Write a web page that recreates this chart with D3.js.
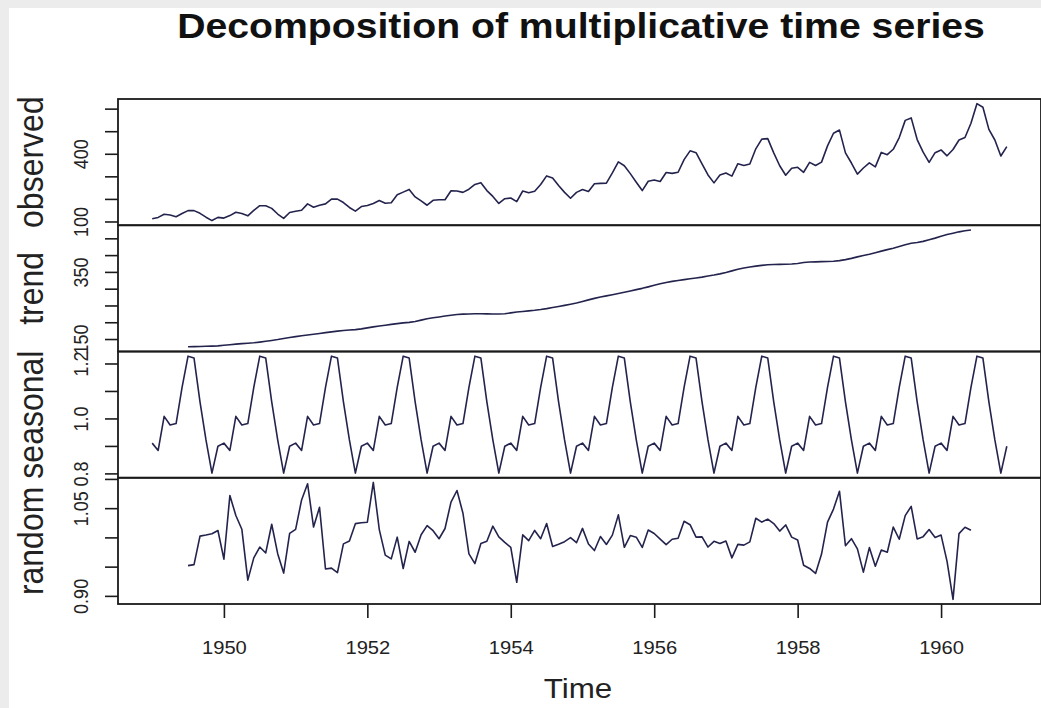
<!DOCTYPE html>
<html><head><meta charset="utf-8">
<script src="https://cdn.jsdelivr.net/npm/d3@7"></script>
<style>body{margin:0;background:#fff}svg{display:block}</style>
</head><body>
<script>
// ---------------- data ----------------
const startYear = 1949;
const observed = [
112,118,132,129,121,135,148,148,136,119,104,118,
115,126,141,135,125,149,170,170,158,133,114,140,
145,150,178,163,172,178,199,199,184,162,146,166,
171,180,193,181,183,218,230,242,209,191,172,194,
196,196,236,235,229,243,264,272,237,211,180,201,
204,188,235,227,234,264,302,293,259,229,203,229,
242,233,267,269,270,315,364,347,312,274,237,278,
284,277,317,313,318,374,413,405,355,306,271,306,
315,301,356,348,355,422,465,467,404,347,305,336,
340,318,362,348,363,435,491,505,404,359,310,337,
360,342,406,396,420,472,548,559,463,407,362,405,
417,391,419,461,472,535,622,606,508,461,390,432];
const trendStartMonth = 6; // July 1949
const trend = [
126.79,127.25,127.96,128.58,129.00,129.75,
131.25,133.08,134.92,136.42,137.42,138.75,140.92,143.17,145.71,148.42,151.54,154.71,
157.13,159.54,161.83,164.13,166.67,169.08,171.25,173.58,175.46,176.83,178.04,180.17,
183.13,186.21,189.04,191.29,193.58,195.83,198.04,199.75,202.21,206.25,210.42,213.38,
215.83,218.50,220.92,222.92,224.08,224.71,225.33,225.33,224.96,224.58,224.46,225.54,
228.00,230.46,232.25,233.92,235.63,237.75,240.50,243.96,247.17,250.25,253.50,257.13,
261.83,266.67,271.13,275.21,278.50,281.96,285.75,289.33,293.25,297.17,301.00,305.46,
309.96,314.42,318.63,321.75,324.50,327.08,329.54,331.83,334.46,337.54,340.54,344.08,
348.25,353.00,357.63,361.38,364.50,367.17,369.46,371.21,372.17,372.42,372.75,373.63,
375.25,377.92,379.50,380.00,380.71,380.96,381.83,383.67,386.50,390.33,394.71,398.63,
402.54,407.17,411.88,416.33,420.50,425.50,430.71,435.13,437.71,440.96,445.83,450.63,
456.33,461.38,465.21,469.33,472.75,475.04];
const seasonalFigure = [0.9102,0.8836,1.0074,0.9759,0.9814,1.1128,1.2266,1.2199,1.0605,0.9218,0.8012,0.8988];
const random = [
0.9517,0.9534,1.0022,1.0040,1.0063,1.0118,
0.9627,1.0715,1.0374,1.0140,0.9269,0.9650,0.9835,0.9734,1.0225,0.9721,0.9390,1.0068,
1.0138,1.0641,1.0918,1.0177,1.0515,0.9460,0.9474,0.9398,0.9889,0.9939,1.0235,1.0251,
1.0259,1.0940,1.0134,0.9696,0.9633,1.0004,0.9468,0.9931,0.9746,1.0046,1.0202,1.0115,
0.9977,1.0152,1.0604,1.0802,1.0413,0.9718,0.9552,0.9895,0.9934,1.0192,1.0009,0.9916,
0.9830,0.9232,1.0044,0.9944,1.0119,0.9978,1.0237,0.9845,0.9881,0.9927,0.9995,0.9909,
1.0154,0.9888,0.9775,1.0016,0.9879,1.0039,1.0385,0.9831,1.0032,1.0003,0.9828,1.0126,
1.0066,0.9970,0.9876,0.9968,0.9986,1.0275,1.0217,1.0005,1.0009,0.9835,0.9933,0.9895,
0.9938,0.9650,0.9881,0.9868,0.9924,1.0328,1.0261,1.0313,1.0236,1.0108,1.0213,1.0005,
0.9955,0.9523,0.9469,0.9384,0.9715,1.0261,1.0484,1.0790,0.9857,0.9978,0.9803,0.9406,
0.9826,0.9506,0.9785,0.9747,1.0177,0.9968,1.0373,1.0531,0.9974,1.0013,1.0134,0.9999,
1.0040,0.9591,0.8941,1.0065,1.0173,1.0121];
const seasonalYears = 12;

const panelNames = ["observed","trend","seasonal","random"];
const observedTicks = [100,200,300,400,500,600];
const observedTickLabels = ["100","400"];
const trendTicks = [150,200,250,300,350,400,450];
const trendTickLabels = ["150","350"];
const seasonalTicks = [0.8,0.9,1.0,1.1,1.2];
const seasonalTickLabels = ["0.8","1.0","1.2"];
const randomTicks = [0.90,0.95,1.00,1.05,1.10];
const randomTickLabels = ["0.90","1.05"];
const xTicks = [1950,1952,1954,1956,1958,1960];
const titleText = "Decomposition of multiplicative time series";
const xLabel = "Time";

// ---------------- build series ----------------
const obsSeries = observed.map((v,i)=>({t:startYear+i/12, v}));
const trendSeries = trend.map((v,i)=>({t:startYear+(i+trendStartMonth)/12, v}));
const seasSeries = [];
for (let yr=0; yr<seasonalYears; yr++) seasonalFigure.forEach((v,m)=>seasSeries.push({t:startYear+yr+m/12, v}));
const randSeries = random.map((v,i)=>({t:startYear+(i+trendStartMonth)/12, v}));

const panels = [
  {name:panelNames[0], data:obsSeries, ticks:observedTicks, labels:observedTickLabels, fmt:d3.format("d")},
  {name:panelNames[1], data:trendSeries, ticks:trendTicks, labels:trendTickLabels, fmt:d3.format("d")},
  {name:panelNames[2], data:seasSeries, ticks:seasonalTicks, labels:seasonalTickLabels, fmt:d3.format(".1f")},
  {name:panelNames[3], data:randSeries, ticks:randomTicks, labels:randomTickLabels, fmt:d3.format(".2f")}
];

// ---------------- layout ----------------
const W = 1041, H = 708;
const left = 118, right = 1041;
const top0 = 99, panelH = 126.25;
const lineColor = "#23234d";
const ink = "#1a1a1a";
const sx = 1.12; // horizontal stretch of the picture

const svg = d3.select("body").append("svg").attr("width",W).attr("height",H);
svg.append("rect").attr("width",W).attr("height",H).attr("fill","#ececec");
svg.append("rect").attr("x",9).attr("y",8).attr("width",W-9).attr("height",H-8).attr("fill","#fff");

function rExtend(ext){ const d=(ext[1]-ext[0])*0.04; return [ext[0]-d, ext[1]+d]; }

const allT = obsSeries.map(d=>d.t);
const x = d3.scaleLinear().domain(rExtend(d3.extent(allT))).range([left,right]);

svg.append("text").attr("transform",`translate(581,38) scale(${sx},1)`)
  .attr("text-anchor","middle").attr("font-family","Liberation Sans, Arial, sans-serif")
  .attr("font-weight","bold").attr("font-size",35).attr("fill","#111").text(titleText);

panels.forEach((p,i)=>{
  const y0 = top0 + i*panelH, y1 = y0 + panelH;
  const y = d3.scaleLinear().domain(rExtend(d3.extent(p.data,d=>d.v))).range([y1,y0]);
  // series line
  svg.append("path").datum(p.data)
    .attr("d", d3.line().x(d=>x(d.t)).y(d=>y(d.v)))
    .attr("fill","none").attr("stroke",lineColor).attr("stroke-width",1.6).attr("stroke-linejoin","round");
  // frame
  svg.append("rect").attr("x",left).attr("y",y0).attr("width",right-left).attr("height",panelH)
    .attr("fill","none").attr("stroke",ink).attr("stroke-width",1.8);
  // y axis
  const ax = svg.append("g").attr("transform",`translate(${left},0)`)
    .call(d3.axisLeft(y).tickValues(p.ticks).tickSize(13).tickFormat(d=>{const s=p.fmt(d); return p.labels.includes(s)?s:"";}));
  ax.select(".domain").remove();
  ax.selectAll(".tick line").attr("stroke",ink).attr("stroke-width",1.6);
  ax.selectAll(".tick text").attr("x",null).attr("dy",null).attr("text-anchor","middle")
    .attr("transform",`translate(-30,0) scale(${sx},1) rotate(-90)`)
    .attr("font-family","Liberation Sans, Arial, sans-serif").attr("font-size",18).attr("fill","#222");
  // panel label
  svg.append("text").attr("transform",`translate(43,${(y0+y1)/2}) scale(${sx},1) rotate(-90)`)
    .attr("text-anchor","middle").attr("font-family","Liberation Sans, Arial, sans-serif")
    .attr("font-size",32).attr("fill","#222").text(p.name);
});

// x axis
const bottom = top0 + 4*panelH;
const xa = svg.append("g").attr("transform",`translate(0,${bottom})`)
  .call(d3.axisBottom(x).tickValues(xTicks).tickSize(14).tickFormat(d3.format("d")));
xa.select(".domain").remove();
xa.selectAll(".tick line").attr("stroke",ink).attr("stroke-width",1.6);
xa.selectAll(".tick text").attr("y",null).attr("dy",null)
  .attr("transform",`translate(0,50) scale(${sx},1)`)
  .attr("font-family","Liberation Sans, Arial, sans-serif").attr("font-size",18).attr("fill","#222");

svg.append("text").attr("transform",`translate(578,698) scale(${sx},1)`).attr("text-anchor","middle")
  .attr("font-family","Liberation Sans, Arial, sans-serif").attr("font-size",28).attr("fill","#222").text(xLabel);
</script>
</body></html>
